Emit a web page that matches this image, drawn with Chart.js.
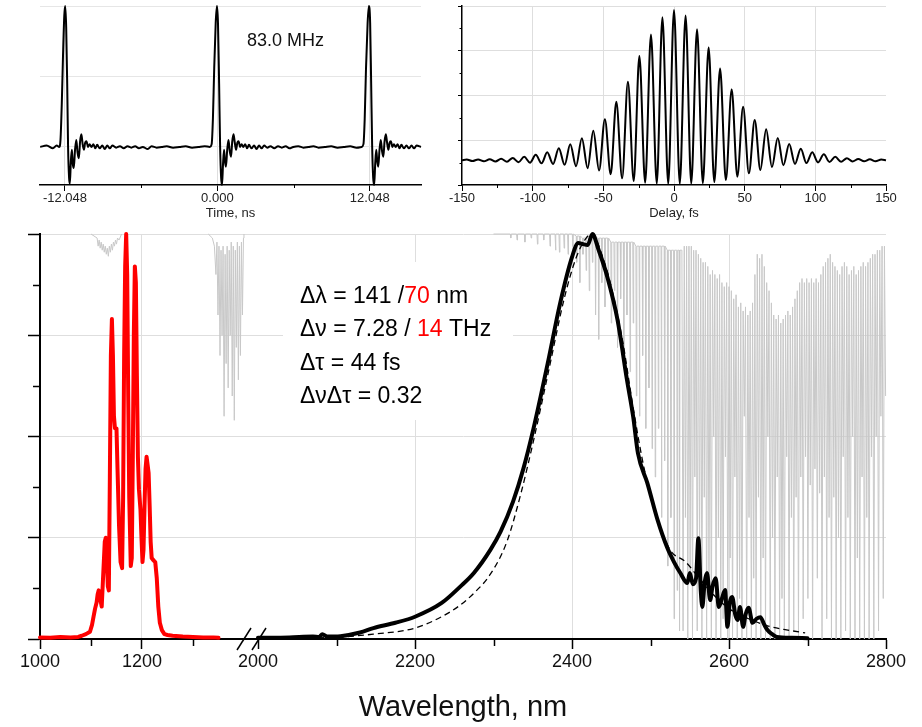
<!DOCTYPE html>
<html>
<head>
<meta charset="utf-8">
<script src="https://cdn.jsdelivr.net/npm/chart.js@4.4.1/dist/chart.umd.min.js"></script>
<style>
  body { margin: 0; background: #fff; }
  #wrap { position: relative; width: 922px; height: 727px; }
  #wrap canvas { position: absolute; left: 0; top: 0; }
</style>
</head>
<body>
<div id="wrap">
  <canvas id="trainChart" width="922" height="727"></canvas>
  <canvas id="acChart" width="922" height="727"></canvas>
  <canvas id="specChart" width="922" height="727"></canvas>
</div>
<script>
// ---- pulse train (top left) ----
const timeTicks = [-12.048, 0, 12.048];
const timeMinor = [-6.024, 6.024];
const pulseT = [
  -14.0, -13.5, -13.0, -12.7, -12.5, -12.4, -12.3, -12.2, -12.1, -12.03,
  -11.95, -11.87, -11.8, -11.72, -11.66, -11.58, -11.5, -11.43, -11.35, -11.25,
  -11.15, -11.05, -10.95, -10.85, -10.75, -10.65, -10.55, -10.45, -10.35, -10.22,
  -10.1, -9.95, -9.8, -9.65, -9.5, -9.3, -9.1, -8.9, -8.7, -8.5,
  -8.3, -8.0, -7.7, -7.4, -7.1, -6.8, -6.5, -6.2, -5.9, -5.5,
  -5.2, -4.8, -4.4, -4.0, -3.5, -3.0, -2.5, -2.0, -1.5, -1.0,
  -0.6, -0.45, -0.35, -0.25, -0.13, -0.03, 0.05, 0.14, 0.22, 0.3,
  0.37, 0.45, 0.53, 0.6, 0.68, 0.78, 0.88, 0.98, 1.08, 1.18,
  1.28, 1.38, 1.48, 1.58, 1.68, 1.8, 1.92, 2.05, 2.2, 2.35,
  2.5, 2.7, 2.9, 3.1, 3.3, 3.5, 3.7, 3.95, 4.2, 4.5,
  4.8, 5.1, 5.4, 5.7, 6.0, 6.4, 6.8, 7.2, 7.6, 8.0,
  8.5, 9.0, 9.5, 10.0, 10.5, 11.0, 11.4, 11.55, 11.65, 11.75,
  11.88, 11.98, 12.08, 12.16, 12.24, 12.32, 12.4, 12.48, 12.56, 12.64,
  12.72, 12.82, 12.92, 13.02, 13.12, 13.22, 13.32, 13.42, 13.52, 13.62,
  13.72, 13.84, 13.96, 14.1, 14.25, 14.4, 14.55, 14.75, 14.95, 15.15,
  15.35, 15.55, 15.75, 16.1
];
const pulseV = [
  0.0, 0.01, -0.01, 0.01, 0.0, 0.05, 0.3, 0.65, 0.93, 1.0,
  0.85, 0.45, 0.0, -0.22, -0.26, -0.1, -0.02, -0.12, -0.15, -0.02,
  0.05, -0.04, -0.08, 0.04, 0.09, 0.02, -0.02, 0.03, 0.04, 0.0,
  0.02, 0.0, 0.02, -0.01, 0.015, -0.01, 0.01, -0.015, 0.01, -0.01,
  0.01, -0.005, 0.005, -0.01, 0.005, -0.005, 0.005, -0.01, 0.0, -0.015,
  0.005, -0.005, 0.0, 0.005, -0.005, 0.0, 0.005, -0.005, 0.0, 0.005,
  0.0, 0.02, 0.2, 0.55, 0.88, 1.0, 0.88, 0.45, 0.0, -0.22,
  -0.27, -0.12, -0.02, -0.1, -0.14, -0.02, 0.05, -0.03, -0.07, 0.04,
  0.09, 0.03, -0.02, 0.03, 0.04, 0.0, 0.02, 0.0, 0.02, -0.01,
  0.015, -0.01, 0.01, -0.015, 0.01, -0.01, 0.01, -0.005, 0.005, -0.01,
  0.005, -0.005, 0.005, -0.01, 0.0, 0.005, -0.005, 0.0, 0.005, -0.005,
  0.0, 0.005, -0.005, 0.0, 0.005, -0.005, 0.0, 0.02, 0.2, 0.55,
  0.88, 1.0, 0.88, 0.45, 0.0, -0.22, -0.27, -0.12, -0.02, -0.1,
  -0.14, -0.02, 0.05, -0.03, -0.07, 0.04, 0.09, 0.03, -0.02, 0.03,
  0.04, 0.0, 0.02, 0.0, 0.02, -0.01, 0.015, -0.01, 0.01, -0.01,
  0.01, -0.01, 0.01, 0.0
];

// ---- interferometric autocorrelation (top right) ----
const delayTicks = [-150, -100, -50, 0, 50, 100, 150];
const delayMinor = [-125, -75, -25, 25, 75, 125];
const acTicks = [0, 2, 4, 6, 8];
const acMinor = [1, 3, 5, 7];
const acDelay = [
  -150, -146.7, -142.6, -138.6, -134.5, -130.4, -126.3, -122.3, -118.2, -114.1,
  -110, -106, -101.9, -97.8, -93.7, -89.7, -85.6, -81.5, -77.4, -73.4,
  -69.3, -65.2, -61.1, -57.1, -53, -48.9, -44.8, -40.8, -36.7, -32.6,
  -28.5, -24.5, -20.4, -16.3, -12.2, -8.2, -4.1, 0,
  4.1, 8.2, 12.2, 16.3, 20.4, 24.5, 28.5, 32.6, 36.7, 40.8,
  44.8, 48.9, 53, 57.1, 61.1, 65.2, 69.3, 73.4, 77.4, 81.5,
  85.6, 89.7, 93.7, 97.8, 101.9, 106, 110, 114.1, 118.2, 122.3,
  126.3, 130.4, 134.5, 138.6, 142.6, 146.7, 150
];
const acSignal = [
  1.1, 1.14, 1.07, 1.14, 1.06, 1.15, 1.05, 1.17, 1.04, 1.21,
  1.02, 1.26, 1.0, 1.35, 0.97, 1.46, 0.94, 1.64, 0.9, 1.82,
  0.84, 2.09, 0.75, 2.43, 0.65, 2.94, 0.48, 3.72, 0.3, 4.62,
  0.18, 5.77, 0.1, 6.73, 0.06, 7.5, 0.05, 7.82,
  0.05, 7.57, 0.06, 6.96, 0.08, 6.14, 0.13, 5.21, 0.22, 4.28,
  0.37, 3.5, 0.52, 2.91, 0.67, 2.49, 0.8, 2.1, 0.88, 1.83,
  0.94, 1.62, 0.98, 1.46, 1.01, 1.37, 1.03, 1.26, 1.04, 1.2,
  1.05, 1.16, 1.06, 1.15, 1.06, 1.14, 1.1
];

// ---- spectra (main) ----
const wlTicksLeft = [1000, 1200];
const wlMinorLeft = [1100, 1300];
const wlTicksRight = [2000, 2200, 2400, 2600, 2800];
const wlMinorRight = [2100, 2300, 2500, 2700];
const intensityTicks = [0, 0.25, 0.5, 0.75, 1];
const intensityMinor = [0.125, 0.375, 0.625, 0.875];

const pumpNm = [
  1000, 1020, 1040, 1060, 1075, 1082, 1090, 1098, 1102, 1105,
  1108, 1111, 1113, 1115, 1118, 1121, 1124, 1127, 1129, 1131,
  1133, 1135, 1137, 1139, 1141, 1143, 1145, 1147, 1150, 1152,
  1155, 1158, 1161, 1163, 1165, 1167, 1169, 1171, 1173, 1175,
  1178, 1180, 1182, 1184, 1186, 1188, 1190, 1192, 1194, 1197,
  1199, 1201, 1203, 1205, 1207, 1209, 1211, 1213, 1215, 1217,
  1219, 1222, 1226, 1229, 1232, 1235, 1239, 1244, 1250, 1260,
  1280, 1300, 1320, 1340, 1350
];
const pumpI = [
  0.004, 0.003, 0.005, 0.004, 0.005, 0.008, 0.012, 0.018, 0.035, 0.055,
  0.075, 0.09, 0.11, 0.12, 0.1, 0.08, 0.16, 0.24, 0.25, 0.2,
  0.13, 0.12, 0.4, 0.7, 0.79, 0.7, 0.55, 0.52, 0.52, 0.42,
  0.28, 0.19, 0.175, 0.35, 0.7, 0.92, 1.0, 0.9, 0.6, 0.35,
  0.18, 0.2, 0.45, 0.75, 0.92, 0.88, 0.65, 0.45, 0.37, 0.32,
  0.25, 0.19, 0.22, 0.33, 0.42, 0.45, 0.43, 0.41, 0.33, 0.24,
  0.2, 0.195, 0.19, 0.15, 0.08, 0.04, 0.022, 0.012, 0.01, 0.008,
  0.006, 0.005, 0.004, 0.004, 0.003
];

const midIrNm = [
  2000, 2040, 2070, 2078, 2082, 2088, 2105, 2130, 2147, 2175,
  2200, 2234, 2258, 2275, 2296, 2309, 2325, 2338, 2351, 2369,
  2385, 2400, 2408, 2414, 2420, 2426, 2434, 2445, 2458, 2470,
  2478, 2484, 2496, 2509, 2521, 2530, 2538, 2547, 2550, 2554,
  2558, 2561, 2564, 2566, 2569, 2572, 2576, 2579, 2583, 2587,
  2591, 2595, 2598, 2601, 2604, 2608, 2611, 2614, 2618, 2621,
  2625, 2630, 2635, 2640, 2645, 2649, 2655, 2661, 2680, 2700
];
const midIrI = [
  0.003, 0.004, 0.006, 0.005, 0.012, 0.006, 0.007, 0.016, 0.027, 0.04,
  0.055, 0.089, 0.13, 0.163, 0.22, 0.265, 0.34, 0.42, 0.52, 0.68,
  0.83, 0.943, 0.978, 0.975, 0.973, 1.0, 0.96, 0.894, 0.788, 0.64,
  0.548, 0.459, 0.385, 0.294, 0.227, 0.19, 0.163, 0.138, 0.163, 0.135,
  0.15, 0.249, 0.12, 0.079, 0.14, 0.163, 0.096, 0.13, 0.15, 0.079,
  0.1, 0.121, 0.03, 0.09, 0.104, 0.06, 0.047, 0.079, 0.03, 0.06,
  0.077, 0.04, 0.05, 0.054, 0.035, 0.022, 0.012, 0.005, 0.003, 0.002
];

const fitNm = [
  2000, 2050, 2105, 2147, 2200, 2234, 2255, 2275, 2296, 2317,
  2335, 2351, 2370, 2390, 2405, 2418, 2426, 2436, 2450, 2465,
  2478, 2492, 2508, 2525, 2545, 2560, 2580, 2600, 2625, 2650,
  2675, 2697
];
const fitI = [
  0.001, 0.002, 0.005, 0.012, 0.027, 0.055, 0.08, 0.113, 0.16, 0.24,
  0.36, 0.49, 0.66, 0.84, 0.94, 0.99, 1.0, 0.96, 0.87, 0.73,
  0.57, 0.42, 0.3, 0.22, 0.19, 0.155, 0.11, 0.075, 0.05, 0.032,
  0.022, 0.015
];

// atmospheric transmission, 1.1-1.4 um
const atmLeftNm = [
  1100, 1112, 1114, 1116, 1118, 1120, 1122, 1124, 1126, 1128,
  1130, 1132, 1134, 1136, 1138, 1140, 1142, 1144, 1146, 1148,
  1150, 1152, 1155, 1160, 1200, 1330, 1338, 1342, 1345, 1347,
  1349, 1351, 1353, 1355, 1357, 1359, 1361, 1363, 1365, 1367,
  1369, 1371, 1373, 1375, 1377, 1379, 1381, 1383, 1385, 1387,
  1389, 1391, 1393, 1395, 1397, 1399, 1400
];
const atmLeftT = [
  1.0, 0.99, 0.97, 0.985, 0.965, 0.98, 0.96, 0.975, 0.955, 0.97,
  0.95, 0.965, 0.945, 0.97, 0.955, 0.975, 0.96, 0.98, 0.97, 0.985,
  0.975, 0.99, 0.985, 1.0, null, 1.0, 0.99, 0.97, 0.9, 0.98,
  0.8, 0.97, 0.7, 0.96, 0.75, 0.97, 0.55, 0.95, 0.68, 0.97,
  0.62, 0.96, 0.75, 0.98, 0.6, 0.97, 0.54, 0.96, 0.72, 0.98,
  0.64, 0.97, 0.7, 0.98, 0.8, 0.99, 1.0
];

// atmospheric transmission, 2.3-2.8 um
const atmRightNm = [
  2300,
  2321.4, 2322, 2322.6, 2329.4, 2330, 2330.6, 2339.4, 2340, 2340.6,
  2347.4, 2348, 2348.6, 2355.4, 2356, 2356.6, 2363.4, 2364, 2364.6,
  2371.4, 2372, 2372.6, 2378.4, 2379, 2379.6, 2383.4, 2384, 2384.6,
  2389.4, 2390, 2390.6, 2394.4, 2395, 2395.6, 2400.4, 2401, 2401.6,
  2405.4, 2406, 2406.6, 2409.4, 2410, 2410.6, 2413.4, 2414, 2414.6,
  2417.4, 2418, 2418.6, 2421.4, 2422, 2422.6, 2425.4, 2426, 2426.6,
  2429.4, 2430, 2430.6, 2433.4, 2434, 2434.6, 2437.4, 2438, 2438.6,
  2441.4, 2442, 2442.6, 2445.4, 2446, 2446.6, 2449.4, 2450, 2450.6,
  2453.4, 2454, 2454.6, 2457.4, 2458, 2458.6, 2461.4, 2462, 2462.6,
  2465.4, 2466, 2466.6, 2469.4, 2470, 2470.6, 2473.4, 2474, 2474.6,
  2477.4, 2478, 2478.6, 2481.4, 2482, 2482.6, 2485.4, 2486, 2486.6,
  2489.4, 2490, 2490.6, 2493.4, 2494, 2494.6, 2497.4, 2498, 2498.6,
  2501.4, 2502, 2502.6, 2505.4, 2506, 2506.6, 2509.4, 2510, 2510.6,
  2513.4, 2514, 2514.6, 2517.4, 2518, 2518.6, 2521.4, 2522, 2522.6,
  2525.4, 2526, 2526.6, 2529.4, 2530, 2530.6, 2533.4, 2534, 2534.6,
  2536.4, 2537, 2537.6,
  2540, 2541.5, 2543, 2544.5, 2546, 2547.5, 2549, 2550.5, 2552, 2553.5,
  2555, 2556.5, 2558, 2559.5, 2561, 2562.5, 2564, 2565.5, 2567, 2568.5,
  2570, 2571.5, 2573, 2574.5, 2576, 2577.5, 2579, 2580.5, 2582, 2583.5,
  2585, 2586.5, 2588, 2589.5, 2591, 2592.5, 2594, 2595.5, 2597, 2598.5,
  2600, 2601.5, 2603, 2604.5, 2606, 2607.5, 2609, 2610.5, 2612, 2613.5,
  2615, 2616.5, 2618, 2619.5, 2621, 2622.5, 2624, 2625.5, 2627, 2628.5,
  2630, 2631.5, 2633, 2634.5, 2636, 2637.5, 2639, 2640.5, 2642, 2643.5,
  2645, 2646.5, 2648, 2649.5, 2651, 2652.5, 2654, 2655.5, 2657, 2658.5,
  2660, 2661.5, 2663, 2664.5, 2666, 2667.5, 2669, 2670.5, 2672, 2673.5,
  2675, 2676.5, 2678, 2679.5, 2681, 2682.5, 2684, 2685.5, 2687, 2688.5,
  2690, 2691.5, 2693, 2694.5, 2696, 2697.5, 2699, 2700.5, 2702, 2703.5,
  2705, 2706.5, 2708, 2709.5, 2711, 2712.5, 2714, 2715.5, 2717, 2718.5,
  2720, 2721.5, 2723, 2724.5, 2726, 2727.5, 2729, 2730.5, 2732, 2733.5,
  2735, 2736.5, 2738, 2739.5, 2741, 2742.5, 2744, 2745.5, 2747, 2748.5,
  2750, 2751.5, 2753, 2754.5, 2756, 2757.5, 2759, 2760.5, 2762, 2763.5,
  2765, 2766.5, 2768, 2769.5, 2771, 2772.5, 2774, 2775.5, 2777, 2778.5,
  2780, 2781.5, 2783, 2784.5, 2786, 2787.5, 2789, 2790.5, 2792, 2793.5,
  2795, 2796.5, 2798, 2799.5
];
const atmRightT = [
  1.0,
  1, 0.99, 1, 1, 0.985, 1, 1, 0.98, 1,
  1, 0.99, 1, 1, 0.975, 1, 1, 0.985, 1,
  1, 0.97, 1, 1, 0.96, 1, 1, 0.955, 1,
  1, 0.965, 1, 1, 0.95, 1, 1, 0.97, 1,
  0.995, 0.93, 0.995, 0.995, 0.88, 0.995, 0.99, 0.95, 0.99,
  0.99, 0.91, 0.99, 0.99, 0.86, 0.99, 0.99, 0.93, 0.99,
  0.99, 0.8, 0.99, 0.99, 0.74, 0.99, 0.99, 0.88, 0.99,
  0.99, 0.82, 0.99, 0.99, 0.9, 0.99, 0.98, 0.78, 0.98,
  0.98, 0.86, 0.98, 0.98, 0.72, 0.98, 0.98, 0.84, 0.98,
  0.98, 0.68, 0.98, 0.98, 0.8, 0.98, 0.98, 0.66, 0.98,
  0.98, 0.78, 0.98, 0.97, 0.6, 0.97, 0.97, 0.55, 0.97,
  0.97, 0.7, 0.97, 0.97, 0.52, 0.97, 0.97, 0.62, 0.97,
  0.97, 0.47, 0.97, 0.97, 0.4, 0.97, 0.97, 0.52, 0.97,
  0.97, 0.3, 0.97, 0.97, 0.44, 0.97, 0.96, 0.18, 0.96,
  0.96, 0.3, 0.96, 0.96, 0.05, 0.96, 0.96, 0.12, 0.96,
  0.96, 0.02, 0.96,
  0.96, 0.02, 0.97, 0.3, 0.97, 0, 0.97, 0.15, 0.97, 0,
  0.96, 0.4, 0.96, 0.02, 0.95, 0.2, 0.94, 0, 0.93, 0.35,
  0.93, 0, 0.92, 0.1, 0.9, 0, 0.91, 0.5, 0.9, 0,
  0.89, 0.25, 0.9, 0, 0.88, 0.05, 0.87, 0.45, 0.88, 0,
  0.87, 0.2, 0.86, 0, 0.84, 0.4, 0.85, 0, 0.82, 0.1,
  0.83, 0, 0.81, 0.55, 0.82, 0, 0.8, 0.3, 0.81, 0,
  0.83, 0.15, 0.9, 0, 0.95, 0.35, 0.94, 0, 0.95, 0.2,
  0.92, 0, 0.88, 0.5, 0.86, 0, 0.83, 0.25, 0.8, 0,
  0.79, 0.4, 0.8, 0, 0.78, 0.1, 0.79, 0, 0.8, 0.45,
  0.81, 0, 0.8, 0.3, 0.82, 0.02, 0.84, 0.35, 0.86, 0,
  0.88, 0.4, 0.89, 0.05, 0.88, 0.45, 0.89, 0.1, 0.88, 0.38,
  0.89, 0, 0.88, 0.42, 0.89, 0.15, 0.88, 0.36, 0.9, 0,
  0.92, 0.4, 0.93, 0.05, 0.94, 0.3, 0.95, 0, 0.93, 0.35,
  0.92, 0, 0.91, 0.25, 0.9, 0, 0.92, 0.45, 0.93, 0.02,
  0.92, 0.3, 0.9, 0, 0.91, 0.5, 0.92, 0, 0.9, 0.2,
  0.91, 0, 0.92, 0.4, 0.93, 0, 0.92, 0.3, 0.93, 0,
  0.94, 0.45, 0.95, 0, 0.95, 0.5, 0.96, 0.02, 0.96, 0.55,
  0.97, 0.1, 0.97, 0.6
];

const noteLines = [
  [['\u0394\u03bb = 141 /', '#000'], ['70', '#f00'], [' nm', '#000']],
  [['\u0394\u03bd = 7.28 / ', '#000'], ['14', '#f00'], [' THz', '#000']],
  [['\u0394\u03c4 = 44 fs', '#000']],
  [['\u0394\u03bd\u0394\u03c4 = 0.32', '#000']]
];
const repRateText = '83.0 MHz';

// ---- helpers ----
const FONT = "'Liberation Sans', Arial, sans-serif";
const GRID = '#dedede';
Chart.defaults.font.family = FONT;
Chart.defaults.color = '#111';

const pts = (xs, ys) => xs.map((x, i) => ({ x: x, y: ys[i] }));
const setTicks = vals => s => { s.ticks = vals.map(v => ({ value: v })); };
const innerGrid = c => (c.tick && c.tick.value > c.scale.min && c.tick.value < c.scale.max) ? GRID : 'transparent';

const minorTicks = {
  id: 'minorTicks',
  afterDraw(chart, args, opts) {
    const ctx = chart.ctx;
    ctx.save();
    ctx.strokeStyle = '#000';
    ctx.lineWidth = opts.width || 1;
    Object.keys(opts.marks || {}).forEach(id => {
      const m = opts.marks[id];
      const s = chart.scales[id];
      m.values.forEach(v => {
        const p = Math.round(s.getPixelForValue(v)) + 0.5;
        ctx.beginPath();
        if (s.isHorizontal()) { ctx.moveTo(p, s.top); ctx.lineTo(p, s.top + m.len); }
        else { ctx.moveTo(s.right, p); ctx.lineTo(s.right - m.len, p); }
        ctx.stroke();
      });
    });
    ctx.restore();
  }
};

const baseOpts = {
  responsive: false,
  animation: false,
  devicePixelRatio: 1,
  events: []
};

// ---- chart 1: pulse train ----
new Chart(document.getElementById('trainChart'), {
  type: 'line',
  data: {
    datasets: [{
      data: pts(pulseT, pulseV),
      borderColor: '#000', borderWidth: 2, pointRadius: 0,
      cubicInterpolationMode: 'monotone', clip: false
    }]
  },
  options: Object.assign({}, baseOpts, {
    layout: { padding: { left: 40, top: 6, right: 501, bottom: 502 }, autoPadding: false },
    plugins: {
      legend: { display: false }, tooltip: { enabled: false },
      minorTicks: { marks: { x: { values: timeMinor, len: 3 } }, width: 1 }
    },
    scales: {
      x: {
        type: 'linear', min: -14.02, max: 16.1,
        afterBuildTicks: setTicks(timeTicks),
        ticks: { autoSkip: false, maxRotation: 0, padding: 0, font: { size: 13 }, color: '#222',
                 callback: v => v.toFixed(3) },
        grid: { color: innerGrid, tickColor: '#000', tickLength: 6, tickWidth: 1 },
        border: { color: '#000', width: 1.5 },
        title: { display: true, text: 'Time, ns', font: { size: 13 }, color: '#222', padding: { top: 0, bottom: 4 } },
        afterFit: s => { s.height = 40; }
      },
      y: {
        type: 'linear', min: -0.27, max: 1.0,
        afterBuildTicks: setTicks([0, 0.5, 1]),
        ticks: { display: false },
        grid: { color: '#e6e6e6', drawTicks: false },
        border: { display: false },
        afterFit: s => { s.width = 0; }
      }
    }
  }),
  plugins: [minorTicks, {
    id: 'repRate',
    afterDraw(chart) {
      const ctx = chart.ctx;
      ctx.save();
      ctx.font = '18px ' + FONT;
      ctx.fillStyle = '#111';
      ctx.fillText(repRateText, 247, 46);
      ctx.restore();
    }
  }]
});

// ---- chart 2: autocorrelation ----
new Chart(document.getElementById('acChart'), {
  type: 'line',
  data: {
    datasets: [{
      data: pts(acDelay, acSignal),
      borderColor: '#000', borderWidth: 2, pointRadius: 0,
      cubicInterpolationMode: 'monotone', clip: false
    }]
  },
  options: Object.assign({}, baseOpts, {
    layout: { padding: { left: 462, top: 6, right: 36, bottom: 502 }, autoPadding: false },
    plugins: {
      legend: { display: false }, tooltip: { enabled: false },
      minorTicks: { marks: { x: { values: delayMinor, len: 3 }, y: { values: acMinor, len: 2.5 } }, width: 1 }
    },
    scales: {
      x: {
        type: 'linear', min: -150, max: 150,
        afterBuildTicks: setTicks(delayTicks),
        ticks: { autoSkip: false, maxRotation: 0, padding: 0, font: { size: 13 }, color: '#222' },
        grid: { color: innerGrid, tickColor: '#000', tickLength: 6, tickWidth: 1 },
        border: { color: '#000', width: 1.5 },
        title: { display: true, text: 'Delay, fs', font: { size: 13 }, color: '#222', padding: { top: 0, bottom: 4 } },
        afterFit: s => { s.height = 40; }
      },
      y: {
        type: 'linear', min: 0, max: 8,
        afterBuildTicks: setTicks(acTicks),
        ticks: { display: false },
        grid: { color: c => c.tick && c.tick.value > 0 ? GRID : 'transparent', tickColor: '#000', tickLength: 4, tickWidth: 1 },
        border: { color: '#000', width: 1.5 },
        afterFit: s => { s.width = 0; }
      }
    }
  }),
  plugins: [minorTicks]
});

// ---- chart 3: spectra with broken wavelength axis ----
const specNote = {
  id: 'specNote',
  beforeDatasetsDraw(chart) {
    const ctx = chart.ctx;
    ctx.save();
    ctx.fillStyle = '#fff';
    ctx.fillRect(283, 262, 230, 158);
    ctx.restore();
  },
  afterDatasetsDraw(chart) {
    const ctx = chart.ctx;
    ctx.save();
    ctx.font = '23px ' + FONT;
    ctx.textBaseline = 'alphabetic';
    noteLines.forEach((line, i) => {
      let x = 300;
      line.forEach(([t, col]) => {
        ctx.fillStyle = col;
        ctx.fillText(t, x, 303 + i * 33.4);
        x += ctx.measureText(t).width;
      });
    });
    ctx.restore();
  }
};

const axisBreak = {
  id: 'axisBreak',
  afterDraw(chart) {
    const s = chart.scales.xL;
    const ctx = chart.ctx;
    ctx.save();
    ctx.strokeStyle = '#000';
    ctx.lineWidth = 1.5;
    [s.right - 14, s.right + 1].forEach(cx => {
      ctx.beginPath();
      ctx.moveTo(cx - 7, s.top + 11);
      ctx.lineTo(cx + 7, s.top - 11);
      ctx.stroke();
    });
    ctx.restore();
  }
};

const wlTickOpts = { autoSkip: false, maxRotation: 0, padding: 2, font: { size: 18 }, color: '#111', callback: v => String(v) };
const wlGridOpts = { color: innerGrid, tickColor: '#000', tickLength: 10, tickWidth: 1.5 };

new Chart(document.getElementById('specChart'), {
  type: 'line',
  data: {
    datasets: [
      { data: pts(fitNm, fitI), xAxisID: 'xR', borderColor: '#000', borderWidth: 1.3, borderDash: [6, 4],
        pointRadius: 0, cubicInterpolationMode: 'monotone', clip: false },
      { data: pts(midIrNm, midIrI), xAxisID: 'xR', borderColor: '#000', borderWidth: 4, pointRadius: 0,
        borderJoinStyle: 'round', borderCapStyle: 'round', cubicInterpolationMode: 'monotone', clip: false },
      { data: pts(pumpNm, pumpI), xAxisID: 'xL', borderColor: '#ff0000', borderWidth: 4, pointRadius: 0,
        borderJoinStyle: 'round', borderCapStyle: 'round', tension: 0, clip: false },
      { data: pts(atmRightNm, atmRightT), xAxisID: 'xR', borderColor: '#c8c8c8', borderWidth: 1, pointRadius: 0,
        tension: 0, clip: false },
      { data: pts(atmLeftNm, atmLeftT), xAxisID: 'xL', borderColor: '#c8c8c8', borderWidth: 1, pointRadius: 0,
        tension: 0, spanGaps: false, clip: false }
    ]
  },
  options: Object.assign({}, baseOpts, {
    layout: { padding: { left: 40, top: 234, right: 36, bottom: 0 }, autoPadding: false },
    plugins: {
      legend: { display: false }, tooltip: { enabled: false },
      minorTicks: { marks: {
        xL: { values: wlMinorLeft, len: 7 },
        xR: { values: wlMinorRight, len: 7 },
        y: { values: intensityMinor, len: 7 }
      }, width: 1.5 }
    },
    scales: {
      xL: {
        type: 'linear', position: 'bottom', stack: 'wl', stackWeight: 218, weight: 0,
        min: 1000, max: 1427.5,
        afterBuildTicks: setTicks(wlTicksLeft),
        ticks: wlTickOpts, grid: wlGridOpts,
        border: { color: '#000', width: 2 },
        afterFit: s => { s.height = 40; }
      },
      xR: {
        type: 'linear', position: 'bottom', stack: 'wl', stackWeight: 628, weight: 0,
        min: 2000, max: 2800,
        afterBuildTicks: setTicks(wlTicksRight),
        ticks: wlTickOpts, grid: wlGridOpts,
        border: { color: '#000', width: 2 },
        afterFit: s => { s.height = 40; }
      },
      xT: {
        type: 'linear', position: 'bottom', weight: 1, min: 0, max: 1,
        ticks: { display: false },
        grid: { display: false },
        border: { display: false },
        title: { display: true, text: 'Wavelength, nm', font: { size: 29 }, color: '#111', padding: { top: 0, bottom: 2 } },
        afterFit: s => { s.height = 48; }
      },
      y: {
        type: 'linear', position: 'left', min: 0, max: 1,
        afterBuildTicks: setTicks(intensityTicks),
        ticks: { display: false },
        grid: { color: c => c.tick && c.tick.value > 0 ? GRID : 'transparent', tickColor: '#000', tickLength: 12, tickWidth: 1.5 },
        border: { color: '#000', width: 2 },
        afterFit: s => { s.width = 0; }
      }
    }
  }),
  plugins: [specNote, minorTicks, axisBreak]
});
</script>
</body>
</html>
